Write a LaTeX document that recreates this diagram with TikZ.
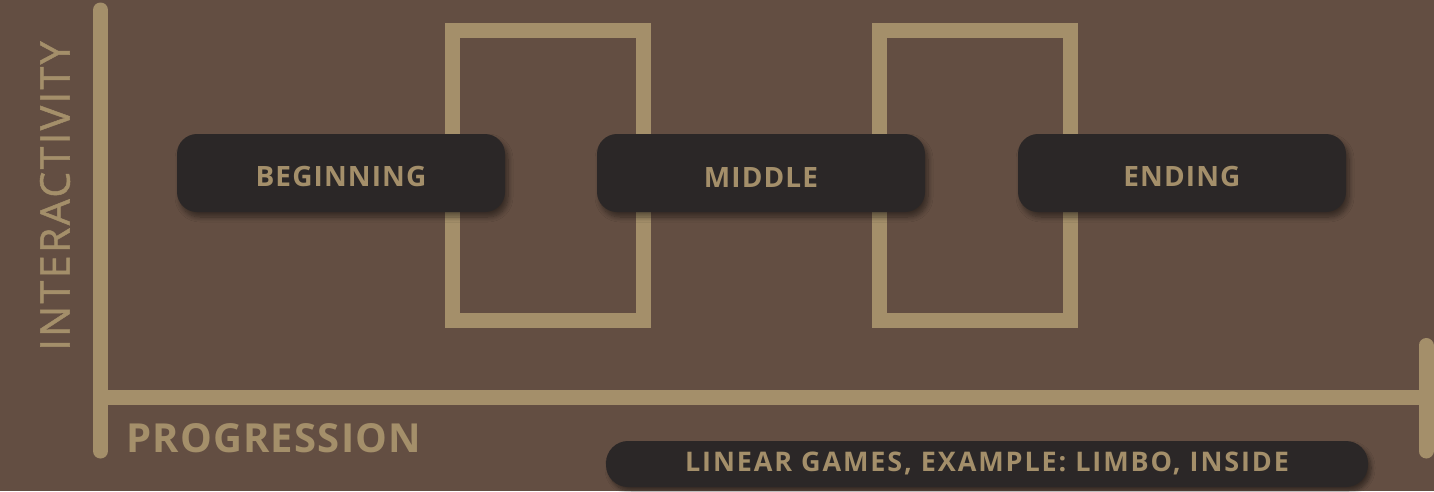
\documentclass[tikz,border=0pt]{standalone}
\usepackage{fontspec}
\setmainfont{Open Sans}
\newfontfamily\osbold[LetterSpace=4]{Open Sans Bold}
\newfontfamily\osprog[LetterSpace=3]{Open Sans Bold}
\newfontfamily\osnote[LetterSpace=7]{Open Sans Bold}
\newfontfamily\osreg[LetterSpace=6,FakeBold=1.2]{Open Sans}
\usetikzlibrary{shadows.blur}
\definecolor{bg}{HTML}{634E42}
\definecolor{tan}{HTML}{A48F6A}
\definecolor{pill}{HTML}{2B2727}
\tikzset{
  axis/.style={draw=tan, line width=15pt, line cap=round},
  gate/.style={draw=tan, line width=15pt, line join=miter},
  stage/.style={fill=pill, rounded corners=20pt, minimum width=328pt, minimum height=78pt,
    text=tan, font=\osbold\fontsize{28}{30}\selectfont, inner sep=0pt, text height=28pt,
    blur shadow={shadow xshift=3pt, shadow yshift=-5pt, shadow blur steps=8, shadow blur radius=5pt, shadow opacity=45}},
  note/.style={fill=pill, rounded corners=22pt, minimum width=762pt, minimum height=46pt,
    text=tan, inner sep=0pt, font=\osnote\fontsize{27}{29}\selectfont,
    blur shadow={shadow xshift=3pt, shadow yshift=-4pt, shadow blur steps=8, shadow blur radius=4pt, shadow opacity=45}},
  label/.style={text=tan, inner sep=0pt}
}
\begin{document}
\begin{tikzpicture}[x=1pt,y=-1pt]
\fill[bg] (0,0) rectangle (1434,491);
\useasboundingbox (0,0) rectangle (1434,491);
% gates
\draw[gate] (452.5,30.5) rectangle (643.5,320.5);
\draw[gate] (879,30.5) rectangle (1070,320.5);
% axes
\coordinate (top) at (100.5,10);
\coordinate (bot) at (100.5,451);
\coordinate (org) at (100.5,397);
\coordinate (rend) at (1426,397);
\coordinate (rtop) at (1426,345.5);
\coordinate (rbot) at (1426,451);
\draw[axis] (top) -- (bot);
\draw[axis] (org) -- (rend);
\draw[axis] (rtop) -- (rbot);
% stages
\node[stage] (beg) at (341,173) {BEGINNING};
\node[stage] (mid) at (761,173) {MIDDLE};
\node[stage] (end) at (1182,173) {ENDING};
% labels
\node[label, rotate=90, font=\osreg\fontsize{41}{43}\selectfont] (inter) at (55,196) {INTERACTIVITY};
\node[label, anchor=base west, font=\osprog\fontsize{40}{42}\selectfont] (prog) at (126,452) {PROGRESSION};
\node[note, text height=19pt] (lin) at (987,464) {LINEAR GAMES, EXAMPLE: LIMBO, INSIDE};
\end{tikzpicture}
\end{document}
